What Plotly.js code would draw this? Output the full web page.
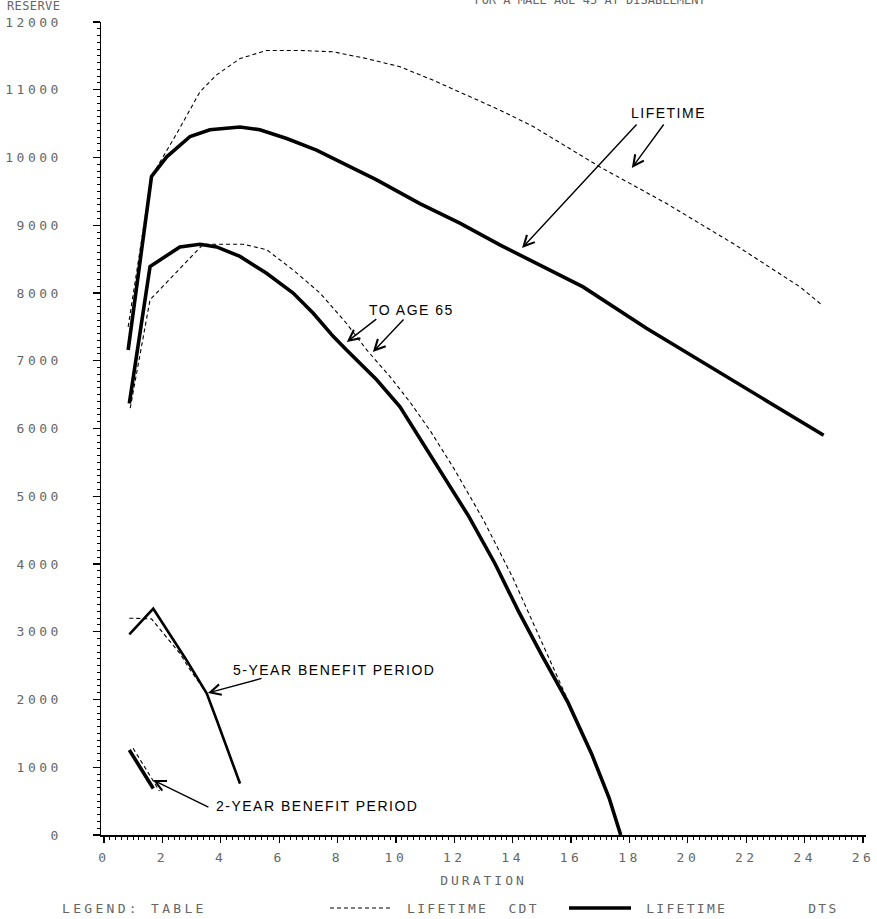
<!DOCTYPE html>
<html>
<head>
<meta charset="utf-8">
<script src="https://cdn.plot.ly/plotly-3.0.1.min.js"></script>
<style>
  html, body { margin: 0; padding: 0; background: #fff; }
  #chart { width: 877px; height: 919px; }
  .xtick text, .ytick text { letter-spacing: 3.5px; }
  .xtitle { letter-spacing: 3px; }
  .legendtext { letter-spacing: 2.3px; }
  text.annotation-text[style*="Liberation"] { letter-spacing: 1.5px; }
  text.annotation-text[style*="Mono"][style*="13px"] { letter-spacing: 3.3px; }
  text.annotation-text[style*="Mono"][style*="12px"] { letter-spacing: 0.4px; }
</style>
</head>
<body>
<div id="chart"></div>
<script>
// ---- Data ----
// Lifetime benefit period, DTS (solid) and CDT (dashed)
const dtsLifeX = [0.83, 1.63, 2.15, 2.95, 3.63, 4.66, 5.34, 6.26, 7.28, 8.42, 9.34, 10.82, 12.19, 13.56, 14.70, 16.41, 18.58, 20.0, 22.0, 24.0, 24.65];
const dtsLifeY = [7160, 9720, 10010, 10310, 10410, 10450, 10410, 10280, 10110, 9860, 9670, 9320, 9030, 8710, 8460, 8090, 7480, 7110, 6590, 6060, 5900];
const cdtLifeX = [0.83, 1.63, 2.49, 3.29, 3.86, 4.66, 5.57, 6.71, 7.85, 8.99, 10.14, 11.28, 12.42, 13.56, 14.69, 16.99, 19.27, 21.55, 23.84, 24.6];
const cdtLifeY = [7500, 9720, 10350, 10970, 11220, 11460, 11580, 11580, 11560, 11460, 11340, 11140, 10920, 10700, 10460, 9860, 9320, 8730, 8090, 7820];
// To age 65
const dts65X = [0.87, 1.58, 2.60, 3.29, 3.86, 4.66, 5.57, 6.48, 7.17, 7.85, 8.31, 9.34, 10.14, 10.82, 11.7, 12.5, 13.4, 14.2, 15.0, 15.9, 16.7, 17.3, 17.7];
const dts65Y = [6370, 8390, 8680, 8720, 8680, 8540, 8290, 8000, 7700, 7360, 7160, 6720, 6320, 5860, 5250, 4700, 4000, 3300, 2650, 1950, 1200, 550, 0];
const cdt65X = [0.9, 1.25, 1.58, 3.40, 4.77, 5.57, 6.48, 7.40, 8.31, 9.0, 9.79, 10.5, 11.2, 12.0, 13.0, 14.0, 15.0, 15.9, 16.7, 17.3, 17.7];
const cdt65Y = [6300, 7150, 7900, 8720, 8720, 8640, 8340, 8000, 7550, 7160, 6770, 6380, 5950, 5400, 4650, 3800, 2850, 1980, 1200, 550, 0];
// 5-year benefit period
const dts5X = [0.87, 1.69, 2.83, 3.52, 3.86, 4.66];
const dts5Y = [2960, 3340, 2580, 2090, 1700, 760];
const cdt5X = [0.87, 1.63, 2.60, 2.95, 3.52, 3.86, 4.66];
const cdt5Y = [3200, 3190, 2680, 2440, 2090, 1700, 760];
// 2-year benefit period
const dts2X = [0.87, 1.69];
const dts2Y = [1255, 686];
const cdt2X = [1.0, 1.9];
const cdt2Y = [1280, 650];

const titleText = 'FOR A MALE AGE 45 AT DISABLEMENT';
const xTitle = 'DURATION';
const yTitle = 'RESERVE';
const legendTitle = 'LEGEND: TABLE';
const cdtName = '\u00a0LIFETIME\u00a0\u00a0CDT\u00a0\u00a0';
const dtsName = '\u00a0LIFETIME\u00a0\u00a0\u00a0\u00a0\u00a0\u00a0\u00a0\u00a0DTS';

// ---- Styles ----
const monoFont = 'DejaVu Sans Mono';
const labelFont = 'Liberation Sans';
const gray = '#666';
const dashStyle = {color: '#000', width: 1.1, dash: '4px,3px'};
const solidThick = {color: '#000', width: 3.6};
const solidMid = {color: '#000', width: 2.6};

function tr(x, y, line, name, show) {
  return {type: 'scatter', mode: 'lines', x: x, y: y, line: line, name: name,
          legendgroup: name, showlegend: !!show, hoverinfo: 'skip'};
}

const data = [
  tr(cdtLifeX, cdtLifeY, dashStyle, cdtName, true),
  tr(cdt65X, cdt65Y, dashStyle, cdtName),
  tr(cdt5X, cdt5Y, dashStyle, cdtName),
  tr(cdt2X, cdt2Y, dashStyle, cdtName),
  tr(dtsLifeX, dtsLifeY, solidThick, dtsName, true),
  tr(dts65X, dts65Y, solidThick, dtsName),
  tr(dts5X, dts5Y, solidMid, dtsName),
  tr(dts2X, dts2Y, solidThick, dtsName)
];

function label(text, x, y) {
  return {text: text, x: x, y: y, xref: 'x', yref: 'y', showarrow: false,
          font: {family: labelFont, size: 14, color: '#000'}};
}
function arrow(ax, ay, x, y) {
  return {text: '', x: x, y: y, ax: ax, ay: ay, xref: 'x', yref: 'y', axref: 'x', ayref: 'y',
          showarrow: true, arrowhead: 5, arrowsize: 1.5, arrowwidth: 1.4, arrowcolor: '#000',
          standoff: 0, startstandoff: 0};
}

const annotations = [
  label('LIFETIME', 19.32, 10657),
  arrow(18.29, 10509, 14.32, 8664),
  arrow(19.21, 10509, 18.08, 9845),
  label('TO AGE 65', 10.55, 7749),
  arrow(9.38, 7631, 8.32, 7277),
  arrow(10.31, 7631, 9.21, 7129),
  label('5-YEAR BENEFIT PERIOD', 7.88, 2435),
  arrow(5.45, 2317, 3.56, 2096),
  label('2-YEAR BENEFIT PERIOD', 7.31, 428),
  arrow(3.63, 399, 1.68, 812),
  {text: yTitle, xref: 'paper', yref: 'paper', x: -0.1255, y: 1.0195, xanchor: 'left', yanchor: 'middle',
   showarrow: false, font: {family: monoFont, size: 12, color: gray}},
  {text: legendTitle, xref: 'paper', yref: 'paper', x: -0.0536, y: -0.0898, xanchor: 'left', yanchor: 'middle',
   showarrow: false, font: {family: monoFont, size: 13, color: gray}}
];

const layout = {
  width: 877, height: 919,
  margin: {l: 101, r: 11, t: 22, b: 84, autoexpand: false},
  paper_bgcolor: '#fff', plot_bgcolor: '#fff',
  title: {text: titleText, x: 590 / 877, xanchor: 'center', y: 1, yref: 'container', yanchor: 'middle',
          font: {family: monoFont, size: 12, color: gray}},
  showlegend: true,
  legend: {orientation: 'h', x: 0.2928, xanchor: 'left', y: -0.0898, yanchor: 'middle',
           font: {family: monoFont, size: 13, color: gray}, itemwidth: 62,
           bgcolor: 'rgba(0,0,0,0)', traceorder: 'normal'},
  xaxis: {
    range: [-0.1, 26.1], tickmode: 'linear', tick0: 0, dtick: 2,
    ticks: 'outside', ticklen: 6, tickwidth: 1.2, tickcolor: '#000',
    showline: true, linecolor: '#000', linewidth: 1.5, showgrid: false, zeroline: false,
    minor: {dtick: 0.2, ticks: 'outside', ticklen: 3, tickwidth: 1, tickcolor: '#000', showgrid: false},
    tickfont: {family: monoFont, size: 13, color: gray}, ticklabelstandoff: 4,
    title: {text: xTitle, font: {family: monoFont, size: 13, color: gray}, standoff: 12},
    automargin: false, fixedrange: true
  },
  yaxis: {
    range: [0, 12000], tickmode: 'linear', tick0: 0, dtick: 1000, tickformat: 'd',
    ticks: 'outside', ticklen: 7, tickwidth: 1.2, tickcolor: '#000',
    showline: true, linecolor: '#000', linewidth: 1.5, showgrid: false, zeroline: false,
    minor: {dtick: 100, ticks: 'outside', ticklen: 3, tickwidth: 1, tickcolor: '#000', showgrid: false},
    tickfont: {family: monoFont, size: 13, color: gray}, ticklabelstandoff: 28,
    automargin: false, fixedrange: true
  },
  annotations: annotations
};

Plotly.newPlot('chart', data, layout, {staticPlot: true, displayModeBar: false});
</script>
</body>
</html>
